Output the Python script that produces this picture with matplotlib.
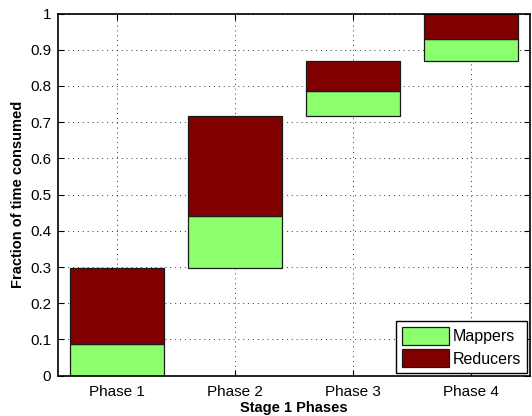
import matplotlib
matplotlib.use("Agg")
import matplotlib.pyplot as plt
import numpy as np

plt.rcParams['font.family'] = ['Liberation Sans', 'DejaVu Sans']

phases = ["Phase 1", "Phase 2", "Phase 3", "Phase 4"]
starts = [0.0, 0.296, 0.717, 0.869]
mappers = [0.088, 0.146, 0.069, 0.060]
reducers = [0.208, 0.275, 0.083, 0.071]

green = "#8cff6e"
red = "#800000"

fig = plt.figure(figsize=(5.32, 4.16), dpi=100)
ax = fig.add_axes([0.1096, 0.0969, 0.8864, 0.8706])
x = np.arange(1, len(phases) + 1)
mb = np.array(starts)
ax.bar(x, mappers, width=0.8, bottom=mb, color=green, edgecolor="#1a1a1a",
       linewidth=0.9, label="Mappers", zorder=3)
ax.bar(x, reducers, width=0.8, bottom=mb + np.array(mappers), color=red,
       edgecolor="#1a1a1a", linewidth=0.9, label="Reducers", zorder=3)

ax.set_xlim(0.5, 4.5)
ax.set_ylim(0, 1)
ax.set_xticks(x)
ax.set_xticklabels(phases, fontsize=11)
yt = np.round(np.arange(0, 1.01, 0.1), 1)
ax.set_yticks(yt)
ax.set_yticklabels(["0" if v == 0 else ("1" if v == 1 else f"{v:g}") for v in yt], fontsize=11)
ax.tick_params(direction="in", top=True, right=True, length=4, width=0.8, pad=5)
ax.tick_params(axis="x", pad=7)
ax.grid(True, linestyle=(0, (1, 4)), color="#333333", linewidth=0.7, zorder=0)
for s in ax.spines.values():
    s.set_linewidth(1.2)
    s.set_zorder(5)
ax.set_axisbelow(True)

ax.set_xlabel("Stage 1 Phases", fontsize=10.5, fontweight="bold", labelpad=1)
ax.set_ylabel("Fraction of time consumed", fontsize=10.5, fontweight="bold", labelpad=4)

leg = ax.legend(loc="lower right", fontsize=11.5, fancybox=False, framealpha=1,
                edgecolor="black", handlelength=2.9, handleheight=1.3,
                borderaxespad=0.15, labelspacing=0.3, handletextpad=0.25, borderpad=0.4)
leg.get_frame().set_linewidth(1.0)

fig.savefig("out.png", dpi=100)
